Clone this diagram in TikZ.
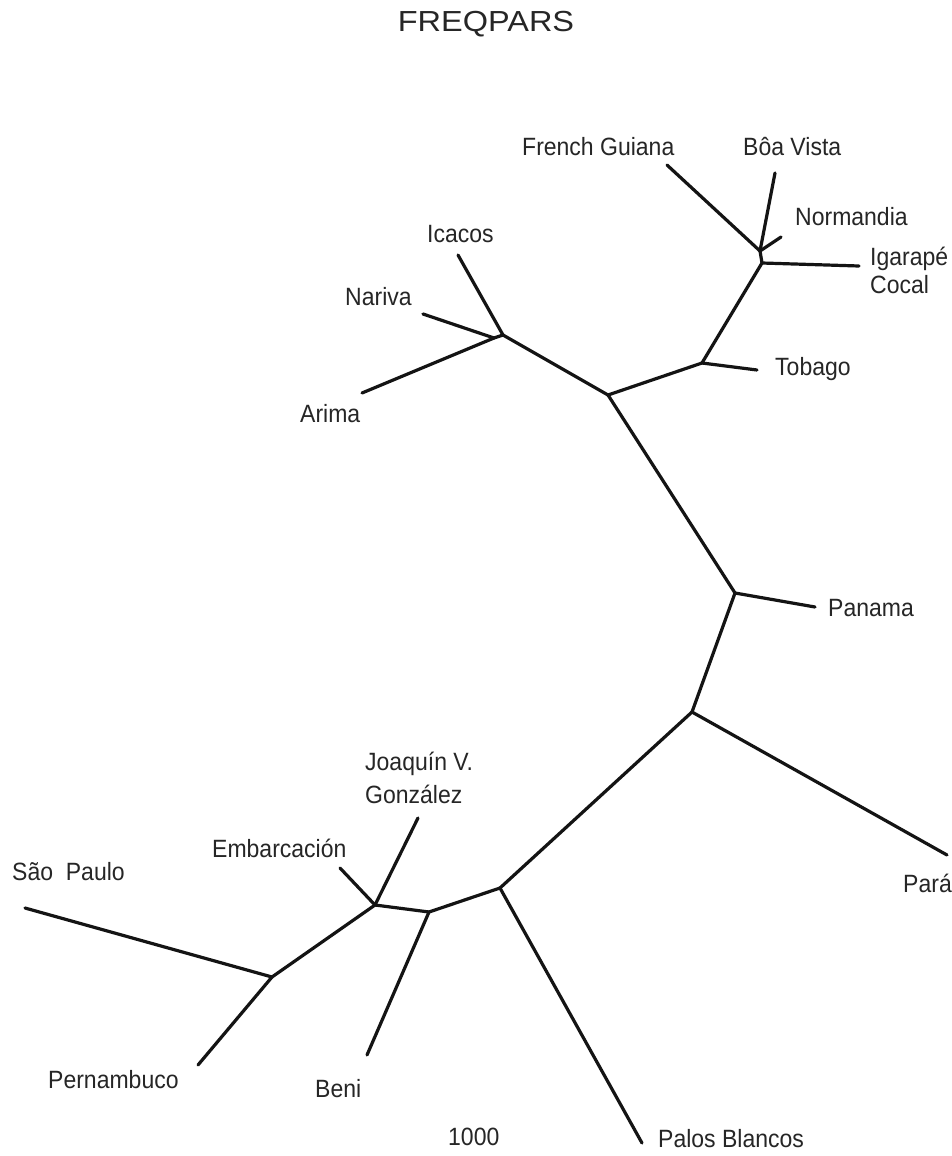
\documentclass[tikz,border=0pt]{standalone}
\usepackage{fontspec}
\setmainfont{Liberation Sans}[FakeStretch=0.92]
\newfontfamily\titlefont{Liberation Sans}[FakeStretch=1.12]
\begin{document}
\begin{tikzpicture}[x=1pt,y=-1pt,
  branch/.style={line width=3.2pt, line cap=round, line join=round, black!92},
  lbl/.style={anchor=base west, inner sep=0pt, font=\fontsize{25}{28}\selectfont, text=black!85, align=left},
  ttl/.style={anchor=base, inner sep=0pt, font=\titlefont\fontsize{29}{32}\selectfont, text=black!85}]
\fill[white] (0,0) rectangle (952,1156);
\useasboundingbox (0,0) rectangle (952,1156);
% internal vertices
\coordinate (A) at (760,251);
\coordinate (B) at (762,263);
\coordinate (C) at (702,363);
\coordinate (D) at (608,395);
\coordinate (E) at (503,335);
\coordinate (E1) at (494,338);
\coordinate (F) at (735,593);
\coordinate (G) at (692,712);
\coordinate (H) at (500,888);
\coordinate (I) at (429,912);
\coordinate (J) at (375,905);
\coordinate (K) at (272,977);
% tips
\coordinate (tFG) at (667,165);
\coordinate (tBV) at (775,173);
\coordinate (tNo) at (781,237);
\coordinate (tIC) at (859,266);
\coordinate (tTo) at (757,370);
\coordinate (tIc) at (458,255);
\coordinate (tNa) at (423,314);
\coordinate (tAr) at (362,393);
\coordinate (tPn) at (815,607);
\coordinate (tPa) at (947,855);
\coordinate (tPB) at (642,1143);
\coordinate (tBe) at (367,1055);
\coordinate (tJo) at (418,818);
\coordinate (tEm) at (340,868);
\coordinate (tSP) at (25,908);
\coordinate (tPe) at (198,1065);
% branches
\draw[branch] (A) -- (tFG);
\draw[branch] (A) -- (tBV);
\draw[branch] (A) -- (tNo);
\draw[branch] (A) -- (B);
\draw[branch] (B) -- (tIC);
\draw[branch] (B) -- (C);
\draw[branch] (C) -- (tTo);
\draw[branch] (C) -- (D);
\draw[branch] (D) -- (E);
\draw[branch] (E) -- (tIc);
\draw[branch] (E) -- (E1);
\draw[branch] (E1) -- (tNa);
\draw[branch] (E1) -- (tAr);
\draw[branch] (D) -- (F);
\draw[branch] (F) -- (tPn);
\draw[branch] (F) -- (G);
\draw[branch] (G) -- (tPa);
\draw[branch] (G) -- (H);
\draw[branch] (H) -- (tPB);
\draw[branch] (H) -- (I);
\draw[branch] (I) -- (tBe);
\draw[branch] (I) -- (J);
\draw[branch] (J) -- (tJo);
\draw[branch] (J) -- (tEm);
\draw[branch] (J) -- (K);
\draw[branch] (K) -- (tSP);
\draw[branch] (K) -- (tPe);
% labels
\node[ttl] (title) at (486,32) {FREQPARS};
\node[lbl] (lFG) at (522,155) {French Guiana};
\node[lbl] (lBV) at (743,155) {Bôa Vista};
\node[lbl] (lNo) at (795,225) {Normandia};
\node[lbl] (lIC) at (870,293) {Igarapé\\Cocal};
\node[lbl] (lTo) at (775,375) {Tobago};
\node[lbl] (lIc) at (427,242) {Icacos};
\node[lbl] (lNa) at (345,305) {Nariva};
\node[lbl] (lAr) at (300,422) {Arima};
\node[lbl] (lPn) at (828,616) {Panama};
\node[lbl] (lPa) at (903,892) {Pará};
\node[lbl] (lPB) at (658,1147) {Palos Blancos};
\node[lbl] (lsc) at (448,1145) {1000};
\node[lbl] (lJo) at (365,803) {Joaquín V.\\[5pt]González};
\node[lbl] (lEm) at (212,857) {Embarcación};
\node[lbl] (lSP) at (12,880) {São\ \ Paulo};
\node[lbl] (lPe) at (48,1088) {Pernambuco};
\node[lbl] (lBe) at (315,1097) {Beni};
\end{tikzpicture}
\end{document}
